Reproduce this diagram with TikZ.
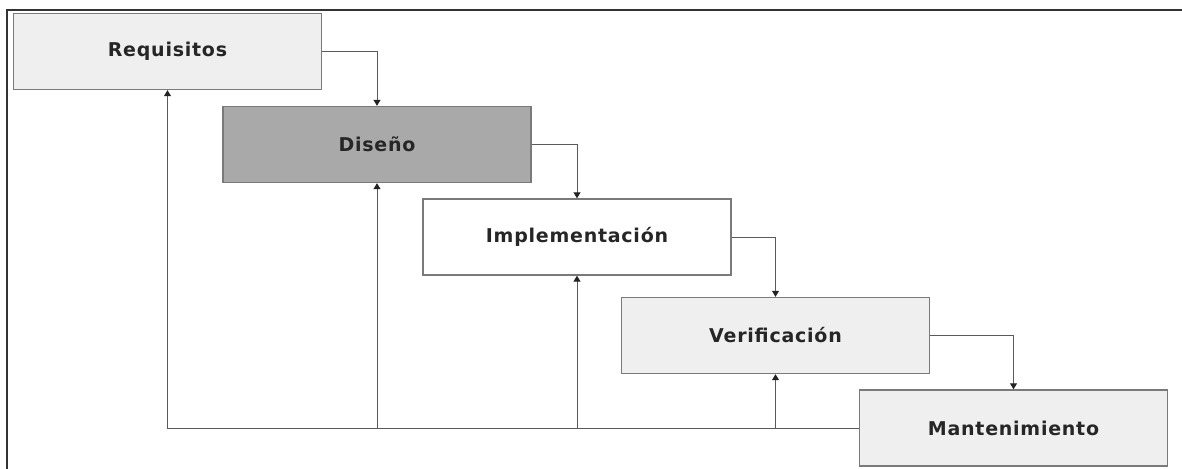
\documentclass[tikz,border=0pt]{standalone}
\usepackage{fontspec}
\setmainfont{DejaVu Sans}
\usetikzlibrary{arrows.meta}
\definecolor{boxline}{HTML}{7A7A7A}
\definecolor{lightfill}{HTML}{EFEFEF}
\definecolor{darkfill}{HTML}{A9A9A9}
\definecolor{connline}{HTML}{5A5A5A}
\definecolor{tipcol}{HTML}{222222}
\definecolor{frameline}{HTML}{333333}
\tikzset{
  phase/.style={draw=boxline, line width=1.4pt, minimum width=308pt, minimum height=76pt,
    inner sep=0pt, font=\fontsize{19}{23}\selectfont\bfseries\addfontfeature{LetterSpace=4}, text=black!85},
  conn/.style={draw=connline, line width=1pt, -{Triangle[width=7pt,length=6pt,fill=tipcol,color=tipcol]}},
}
\begin{document}
\begin{tikzpicture}[x=1pt,y=-1pt]
\useasboundingbox[fill=white] (0,0) rectangle (1182,468);
\draw[frameline, line width=2pt] (7,470) -- (7,10) -- (1184,10);
\node[phase, fill=lightfill] (req) at (167.5,51.5) {Requisitos};
\node[phase, fill=darkfill] (dis) at (377,144.5) {Diseño};
\node[phase, fill=white] (imp) at (577,237) {Implementación};
\node[phase, fill=lightfill] (ver) at (775.5,335.5) {Verificación};
\node[phase, fill=lightfill] (man) at (1013.5,428) {Mantenimiento};
\draw[conn] (req.east) -| (dis.north);
\draw[conn] (dis.east) -| (imp.north);
\draw[conn] (imp.east) -| (ver.north);
\draw[conn] (ver.east) -| (man.north);
\draw[conn] (man.west) -| (req.south);
\draw[conn] (dis.south |- man.west) -- (dis.south);
\draw[conn] (imp.south |- man.west) -- (imp.south);
\draw[conn] (ver.south |- man.west) -- (ver.south);
\end{tikzpicture}
\end{document}
